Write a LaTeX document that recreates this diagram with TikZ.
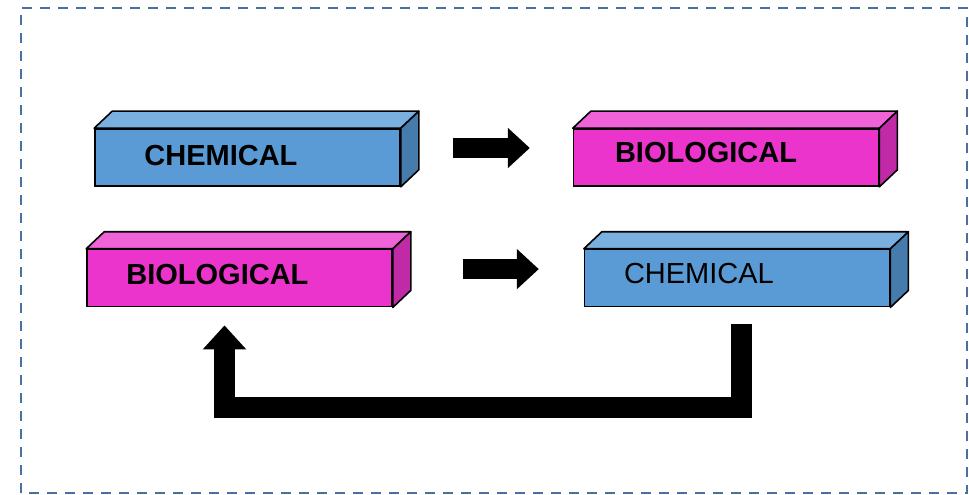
\documentclass[tikz,border=0pt]{standalone}
\usepackage{fontspec}
\setmainfont{Liberation Sans}
\usepackage{xcolor}
\definecolor{frameblue}{RGB}{72,112,160}
\definecolor{chem}{RGB}{91,155,213}
\definecolor{chemtop}{RGB}{122,176,224}
\definecolor{chemside}{RGB}{70,124,172}
\definecolor{bio}{RGB}{234,52,204}
\definecolor{biotop}{RGB}{240,98,216}
\definecolor{bioside}{RGB}{192,42,166}
\usetikzlibrary{arrows.meta,positioning}

\begin{document}
\begin{tikzpicture}[
  x=1pt,y=1pt,
  slab/.style={rectangle,draw=black,line width=1.6pt,
               minimum width=305pt,minimum height=57pt,inner sep=0pt},
  face/.style={draw=black,line width=1.6pt,line join=round},
  word/.style={inner sep=0pt,font=\fontsize{29}{34}\selectfont},
  fat/.style={line width=20pt,-{Triangle[length=22pt,width=39pt]}},
  loopback/.style={line width=21pt,-{Triangle[length=24pt,width=42pt]}},
  frame/.style={draw=frameblue,line width=2pt,dash pattern=on 10pt off 8pt},
]
  \useasboundingbox (0,0) rectangle (969,495);
  \draw[frame] (21,2) rectangle (967,487);

  % front faces
  \node[slab,fill=chem](b1) at (247.5,337.5){};
  \node[slab,fill=bio,right=172pt of b1](b2){};
  \node[slab,fill=bio,below=62pt of b1,xshift=-8pt](b3){};
  \node[slab,fill=chem,right=191pt of b3](b4){};

  % top and side faces
  \foreach \n/\t/\s in {b1/chemtop/chemside,b2/biotop/bioside,
                        b3/biotop/bioside,b4/chemtop/chemside}{
    \draw[face,fill=\t] (\n.north west) -- ++(18,17)
      -- ([shift={(18,17)}]\n.north east) -- (\n.north east) -- cycle;
    \draw[face,fill=\s] (\n.north east) -- ++(18,17)
      -- ([shift={(18,17)}]\n.south east) -- (\n.south east) -- cycle;
  }

  % labels
  \node[word,font=\fontsize{29}{34}\selectfont\bfseries,right=50pt of b1.west,yshift=1.5pt](t1){CHEMICAL};
  \node[word,font=\fontsize{29}{34}\selectfont\bfseries,right=42pt of b2.west,yshift=4.5pt](t2){BIOLOGICAL};
  \node[word,font=\fontsize{29}{34}\selectfont\bfseries,right=40pt of b3.west,yshift=3.5pt](t3){BIOLOGICAL};
  \node[word,right=40pt of b4.west,yshift=4.5pt](t4){CHEMICAL};

  % arrows
  \draw[fat] ([xshift=52pt,yshift=9.5pt]b1.east) -- ([xshift=-43pt,yshift=9.5pt]b2.west);
  \draw[fat] ([xshift=70pt,yshift=9pt]b3.east) -- ([xshift=-45pt,yshift=9pt]b4.west);
  \draw[loopback] ([xshift=4.5pt,yshift=-17pt]b4.south) -- ++(0,-83.5)
    -| ([xshift=-15pt,yshift=-18pt]b3.south);
\end{tikzpicture}
\end{document}
